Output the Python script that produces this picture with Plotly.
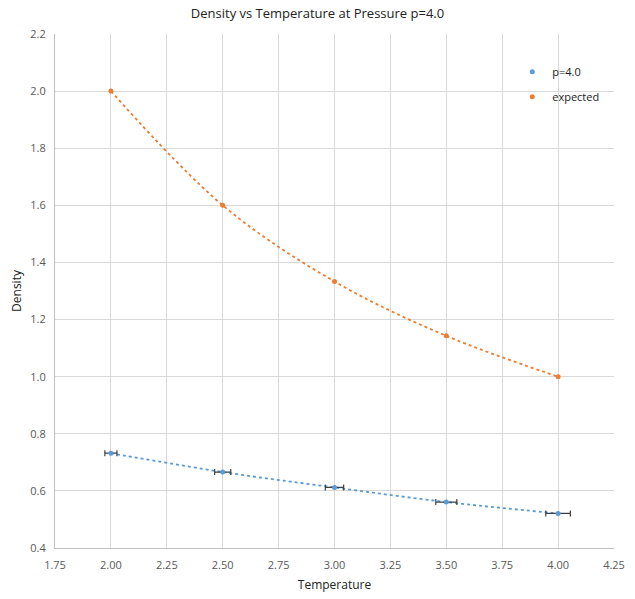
import plotly.graph_objects as go

temperature = [2.0, 2.5, 3.0, 3.5, 4.0]
density_p4 = [0.732, 0.666, 0.612, 0.561, 0.521]
temp_err = [0.027, 0.036, 0.041, 0.047, 0.055]
density_expected = [2.0, 1.6, 1.3333, 1.1429, 1.0]

BLUE = "#5B9BD5"
ORANGE = "#ED7D31"
TXT = "#595959"
FONT = "Open Sans"

fig = go.Figure()

# dotted trend lines (drawn through the data points)
fig.add_trace(go.Scatter(x=temperature, y=density_p4, mode="lines", line=dict(color=BLUE, dash="dot", width=1.8, shape="spline"),
                         showlegend=False, hoverinfo="skip"))
fig.add_trace(go.Scatter(x=temperature, y=density_expected, mode="lines", line=dict(color=ORANGE, dash="dot", width=1.8, shape="spline"),
                         showlegend=False, hoverinfo="skip"))

fig.add_trace(go.Scatter(x=temperature, y=density_p4, mode="markers", name="p=4.0", legendgroup="a",
                         marker=dict(color=BLUE, size=5),
                         error_x=dict(type="data", array=temp_err, color="#404040", thickness=1.2, width=3)))
fig.add_trace(go.Scatter(x=temperature, y=density_expected, mode="markers", name="expected", legendgroup="b",
                         marker=dict(color=ORANGE, size=5)))

fig.update_layout(
    width=635, height=599,
    paper_bgcolor="white", plot_bgcolor="white",
    margin=dict(l=55, r=21, t=34, b=51),
    font=dict(family=FONT, color=TXT, size=11),
    title=dict(text="Density vs Temperature at Pressure p=4.0", x=0.5, xanchor="center", y=0.985, yanchor="top",
               font=dict(family=FONT, size=13, color="#222222")),
    legend=dict(x=0.818, y=0.955, xanchor="left", yanchor="top", bgcolor="rgba(0,0,0,0)",
                font=dict(family=FONT, size=11, color="#222222"), tracegroupgap=6, traceorder="grouped",
                itemwidth=30),
    showlegend=True,
)
fig.update_xaxes(range=[1.75, 4.25], tickvals=[1.75, 2.0, 2.25, 2.5, 2.75, 3.0, 3.25, 3.5, 3.75, 4.0, 4.25],
                 ticktext=["1.75", "2.00", "2.25", "2.50", "2.75", "3.00", "3.25", "3.50", "3.75", "4.00", "4.25"],
                 showgrid=True, gridcolor="#D9D9D9", gridwidth=1, showline=True, linecolor="#BFBFBF", linewidth=1,
                 zeroline=False, ticks="", ticklabelstandoff=7, automargin=False,
                 title=dict(text="Temperature", font=dict(size=12, color="#222222"), standoff=9),
                 tickfont=dict(size=11, color=TXT))
fig.update_yaxes(range=[0.4, 2.2], tickvals=[0.4, 0.6, 0.8, 1.0, 1.2, 1.4, 1.6, 1.8, 2.0, 2.2],
                 ticktext=["0.4", "0.6", "0.8", "1.0", "1.2", "1.4", "1.6", "1.8", "2.0", "2.2"],
                 showgrid=True, gridcolor="#D9D9D9", gridwidth=1, showline=True, linecolor="#BFBFBF", linewidth=1,
                 zeroline=False, ticks="", ticklabelstandoff=6, automargin=False,
                 title=dict(text="Density", font=dict(size=12, color="#222222"), standoff=6),
                 tickfont=dict(size=11, color=TXT))

fig.write_html("out.html")
